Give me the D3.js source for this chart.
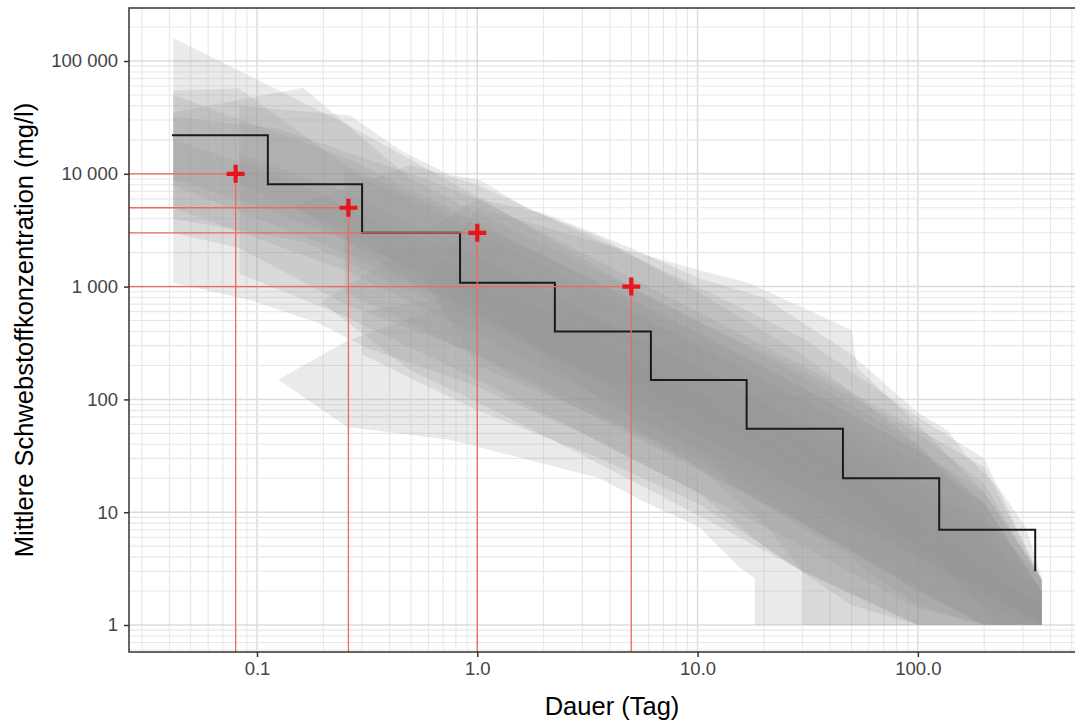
<!DOCTYPE html>
<head>
  <meta charset="utf-8">
  <script src="https://unpkg.com/d3@7/dist/d3.min.js"></script>
  <style>
    body { margin:0; background:#fff; }
    text { font-family: "Liberation Sans", Arial, sans-serif; }
  </style>
</head>
<body>
<svg width="1075" height="720"></svg>
<script>
// Bänder je Messstelle: [Dauer (Tag), min, max] in mg/l
var p01 = [[0.0417,7900,160000],[0.25,2000,28000],[1,560,6300],[5,100,1000],[30,16,160],[100,4,40],[365,1,2.5]];
var p02 = [[0.0417,3000,55000],[0.0833,2200,57000],[0.25,700,12000],[1,250,3500],[3,90,1300],[10,25,400],[30,8,130],[100,2,35],[200,1,12],[365,1,2]];
var p03 = [[0.0417,4000,35000],[0.162,2500,58000],[0.5,900,9000],[1,500,4500],[3,180,1600],[10,50,500],[30,15,180],[100,4,50],[200,2,18],[365,1,2.5]];
var p04 = [[0.0417,1080,20000],[0.093,760,12000],[0.187,480,7000],[0.31,290,4000],[1,130,1800],[3,50,600],[10,15,180],[20,5,70],[50,1.5,25],[100,1,8],[365,1,1.5]];
var p05 = [[0.125,150,150],[0.256,57,330],[0.75,44,700],[3.6,20,300],[5.5,12.8,200],[10.2,7.4,110],[15.6,3.2,60],[18.2,2.6,50],[18.2,1,50],[50,1,15],[100,1,6],[365,1,1.5]];
var p06 = [[0.6,1000,1100],[1,200,5000],[3,80,2700],[10.2,30,1400],[17,14,1080],[50,4,412],[53,3.5,190],[100,1.5,60],[200,1,15],[365,1,2.6]];
var p07 = [[0.6,3000,3200],[1,1200,6000],[2,700,4500],[5,300,2200],[10,150,1200],[20,60,800],[50,15,250],[100,5,76],[137,3,53],[163,2,33],[235,1,16],[310,1,7.3],[365,1,2.6]];
var p08 = [[0.0833,8000,40000],[0.264,3000,33000],[0.45,1500,16000],[0.75,800,9800],[1.03,600,8800],[1.73,300,4800],[3.6,100,2750],[10,35,900],[30,8,250],[100,2,40],[200,1,12],[365,1,2]];
var p09 = [[0.0417,5000,50000],[0.25,1400,14000],[1,380,3800],[3,125,1250],[10,38,380],[30,12,125],[100,3.5,35],[200,1.5,15],[365,1,2.5]];
var p10 = [[0.0417,9000,32000],[0.125,4500,25000],[0.5,1500,10000],[1,750,6000],[3,250,2000],[10,75,600],[30,25,200],[100,7,55],[200,3,25],[365,1,2.5]];
var p11 = [[0.0833,1300,15000],[0.25,550,7000],[1,150,1900],[3,50,630],[10,15,190],[30,5,63],[100,1.4,18],[200,1,7],[365,1,1.5]];
var p12 = [[0.25,900,11000],[1,240,3000],[3,80,1000],[10,24,300],[30,8,100],[100,2.2,28],[200,1,12],[365,1,2]];
var p13 = [[0.15,5000,5200],[0.5,1100,12000],[1,600,8000],[3,200,3000],[10,60,1000],[30,20,350],[100,5,70],[200,2,30],[365,1,2.5]];
var p14 = [[0.2,700,750],[0.5,180,2300],[1,95,1200],[3,32,400],[10,9.5,120],[30,3,40],[100,1,11],[365,1,1.5]];
var p15 = [[0.3,250,600],[1,80,900],[3.6,30,500],[10,12,200],[30,3,60],[100,1,15],[365,1,2]];
var p16 = [[5,60,600],[10,25,300],[20,8,150],[30,3,100],[30,1,100],[100,1,20],[200,1,8],[365,1,2]];
var baender = [p01,p02,p03,p04,p05,p06,p07,p08,p09,p10,p11,p12,p13,p14,p15,p16];

// Treppenlinie (Median je Dauerklasse)
var stufenDauer = [0.0411, 0.112, 0.30, 0.835, 2.25, 6.14, 16.7, 45.7, 125, 341];
var stufenKonz  = [22000, 8100, 3000, 1080, 400, 149, 55, 20, 7, 3];

// Markierte Punkte
var punktDauer = [0.08, 0.26, 1, 5];
var punktKonz  = [10000, 5000, 3000, 1000];

var yBreaks = [1, 10, 100, 1000, 10000, 100000];
var yLabels = ["1", "10", "100", "1 000", "10 000", "100 000"];
var xBreaks = [0.1, 1, 10, 100];
var xLabels = ["0.1", "1.0", "10.0", "100.0"];

var svg = d3.select("svg");
var pLeft = 129, pRight = 1095, pTop = 8, pBottom = 652;

var x = d3.scaleLog().domain([0.02624, 637]).range([pLeft, pRight]);
var y = d3.scaleLog().domain([0.5764, 295100]).range([pBottom, pTop]);

// Gitter
var grid = svg.append("g");
for (var k = -2; k <= 2; k++) {
  for (var m = 1; m <= 9; m++) {
    var v = m * Math.pow(10, k);
    if (v < x.domain()[0] || v > x.domain()[1]) continue;
    grid.append("line")
      .attr("x1", x(v)).attr("x2", x(v)).attr("y1", pTop).attr("y2", pBottom)
      .attr("stroke", m == 1 ? "#dcdcdc" : "#e7e7e7")
      .attr("stroke-width", m == 1 ? 1.5 : 1.1);
  }
}
for (var k = -1; k <= 5; k++) {
  for (var m = 1; m <= 9; m++) {
    var v = m * Math.pow(10, k);
    if (v < y.domain()[0] || v > y.domain()[1]) continue;
    grid.append("line")
      .attr("y1", y(v)).attr("y2", y(v)).attr("x1", pLeft).attr("x2", pRight)
      .attr("stroke", m == 1 ? "#dcdcdc" : "#e7e7e7")
      .attr("stroke-width", m == 1 ? 1.5 : 1.1);
  }
}

// Bänder
var area = d3.area()
  .x(function (r) { return x(r[0]); })
  .y0(function (r) { return y(r[1]); })
  .y1(function (r) { return y(r[2]); });

svg.append("g").selectAll("path")
  .data(baender)
  .enter().append("path")
    .attr("d", area)
    .attr("fill", "#949494")
    .attr("fill-opacity", 0.2);

// Treppe
var stufen = stufenDauer.map(function (d, i) { return [d, stufenKonz[i]]; });
svg.append("path")
  .datum(stufen)
  .attr("fill", "none")
  .attr("stroke", "#1a1a1a")
  .attr("stroke-width", 2)
  .attr("d", d3.line()
    .curve(d3.curveStepAfter)
    .x(function (d) { return x(d[0]); })
    .y(function (d) { return y(d[1]); }));

// Hilfslinien und Kreuze
var punkte = punktDauer.map(function (d, i) { return [d, punktKonz[i]]; });
var ref = svg.append("g");
ref.selectAll(".h").data(punkte).enter().append("line")
  .attr("x1", pLeft).attr("x2", function (d) { return x(d[0]); })
  .attr("y1", function (d) { return y(d[1]); }).attr("y2", function (d) { return y(d[1]); })
  .attr("stroke", "#ee6a5c").attr("stroke-width", 1.3);
ref.selectAll(".v").data(punkte).enter().append("line")
  .attr("x1", function (d) { return x(d[0]); }).attr("x2", function (d) { return x(d[0]); })
  .attr("y1", function (d) { return y(d[1]); }).attr("y2", pBottom)
  .attr("stroke", "#ee6a5c").attr("stroke-width", 1.3);
ref.selectAll(".c").data(punkte).enter().append("path")
  .attr("d", function (d) {
    var cx = x(d[0]), cy = y(d[1]), s = 9;
    return "M" + (cx - s) + "," + cy + "H" + (cx + s) + "M" + cx + "," + (cy - s) + "V" + (cy + s);
  })
  .attr("stroke", "#e8161b").attr("stroke-width", 4.2).attr("fill", "none");

// Rahmen
svg.append("rect")
  .attr("x", pLeft).attr("y", pTop)
  .attr("width", pRight - pLeft).attr("height", pBottom - pTop)
  .attr("fill", "none").attr("stroke", "#333").attr("stroke-width", 1.5);

// Achsen
var yAxis = svg.append("g")
  .attr("transform", "translate(" + pLeft + ",0)")
  .call(d3.axisLeft(y).tickValues(yBreaks).tickSize(5).tickPadding(6)
    .tickFormat(function (d, i) { return yLabels[i]; }));
var xAxis = svg.append("g")
  .attr("transform", "translate(0," + pBottom + ")")
  .call(d3.axisBottom(x).tickValues(xBreaks).tickSize(5).tickPadding(5)
    .tickFormat(function (d, i) { return xLabels[i]; }));
[yAxis, xAxis].forEach(function (a) {
  a.select(".domain").remove();
  a.selectAll(".tick line").attr("stroke", "#333").attr("stroke-width", 1.5);
  a.selectAll(".tick text").attr("fill", "#444")
    .style("font-size", "18.5px").style("font-family", "'Liberation Sans', Arial, sans-serif");
});

svg.append("text")
  .attr("x", (pLeft + pRight) / 2).attr("y", 715)
  .attr("text-anchor", "middle")
  .style("font-size", "25.5px")
  .text("Dauer (Tag)");

svg.append("text")
  .attr("transform", "translate(33," + (pTop + pBottom) / 2 + ") rotate(-90)")
  .attr("text-anchor", "middle")
  .style("font-size", "25.5px")
  .text("Mittlere Schwebstoffkonzentration (mg/l)");
</script>
</body>
